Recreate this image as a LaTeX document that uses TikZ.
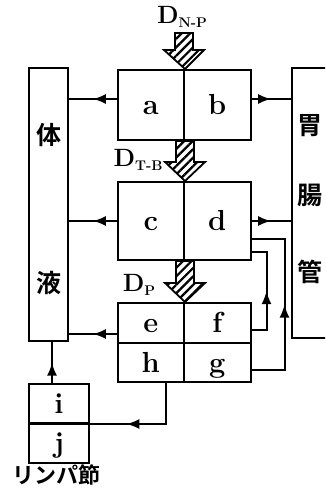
\documentclass[tikz,border=0pt]{standalone}
\usepackage{fontspec}
\usepackage{tikz}
\usetikzlibrary{arrows.meta,positioning,calc,patterns.meta,decorations.markings}
\newfontfamily\jpfont{Noto Sans CJK JP}[BoldFont={* Bold}]

\newcommand{\hatcharrow}[2]{%
  \path[hatch] let \p1=(#1), \p2=(#2) in
    (\x1-9pt,\y1) -- (\x1+9pt,\y1) -- (\x1+9pt,\y2+19pt) -- (\x1+20pt,\y2+19pt)
    -- (\x2,\y2) -- (\x1-20pt,\y2+19pt) -- (\x1-9pt,\y2+19pt) -- cycle;}

\begin{document}
\begin{tikzpicture}[x=1pt, y=-1pt,
        cell/.style={draw, line width=2pt, minimum width=66.5pt, inner sep=0pt, text height=19pt, text depth=0pt, font=\fontsize{29}{29}\selectfont\bfseries},
        side/.style={draw, line width=2.4pt, inner sep=0pt},
        jp/.style={inner sep=0pt, font=\jpfont\fontsize{25}{25}\selectfont\bfseries},
        dlab/.style={inner sep=0pt, font=\fontsize{25}{25}\selectfont\bfseries},
        link/.style={line width=2pt},
        midarr/.style={postaction={decorate}, decoration={markings, mark=at position #1 with {\arrow{Latex[length=13pt,width=10pt]}}}},
        midarr/.default=0.5,
        hatch/.style={draw, line width=1.8pt, pattern={Lines[angle=45,distance=6pt,line width=2.2pt]}}
    ]
    \useasboundingbox (0,0) rectangle (325,495);
    \clip (0,0) rectangle (325,495);

    \node[side, minimum width=39pt, minimum height=273pt] (body) at (48.5,204.5) {};
    \node[side, minimum width=53pt, minimum height=270pt] (gut)  at (318.5,203)  {};
    \node[jp] (tai)  at (49,135)  {体};
    \node[jp] (eki)  at (49,283)  {液};
    \node[jp] (i)    at (310,126) {胃};
    \node[jp] (cho)  at (310,195) {腸};
    \node[jp] (kan)  at (310,272) {管};

    \node[cell, minimum height=70pt] (a) at (150.75,105)   {a};
    \node[cell, minimum height=70pt] (b) at (217.25,105)   {b};
    \node[cell, minimum height=78pt] (c) at (150.75,221)   {c};
    \node[cell, minimum height=78pt] (d) at (217.25,221)   {d};
    \node[cell, minimum height=40pt] (e) at (150.75,323)   {e};
    \node[cell, minimum height=40pt] (f) at (217.25,323)   {f};
    \node[cell, minimum height=39pt] (h) at (150.75,362.5) {h};
    \node[cell, minimum height=39pt] (g) at (217.25,362.5) {g};
    \node[cell, minimum width=60pt, minimum height=39pt] (li) at (59,403.5) {i};
    \node[cell, minimum width=60pt, minimum height=40pt] (lj) at (59,443)   {j};

    \node[dlab] (dnp) at (182,17)  {D\raisebox{-0.3ex}{\fontsize{14}{14}\selectfont N-P}};
    \node[dlab] (dtb) at (138,160) {D\raisebox{-0.3ex}{\fontsize{14}{14}\selectfont T-B}};
    \node[dlab] (dp)  at (139,285) {D\raisebox{-0.3ex}{\fontsize{14}{14}\selectfont P}};
    \node[inner sep=0pt, anchor=west, font=\jpfont\fontsize{22}{22}\selectfont\bfseries] (lymph) at (12,475) {リンパ節};

    \coordinate (nptop) at (184,33);
    \hatcharrow{nptop}{a.north east}
    \hatcharrow{a.south east}{c.north east}
    \hatcharrow{c.south east}{e.north east}

    \draw[link, midarr] ([yshift=6pt]a.west) -- ([yshift=6pt]a.west -| body.east);
    \draw[link, midarr] ([yshift=6pt]b.east) -- ([yshift=6pt]b.east -| gut.west);
    \draw[link, midarr] (c.west) -- (c.west -| body.east);
    \draw[link, midarr] (d.east) -- (d.east -| gut.west);
    \draw[link, midarr] ([yshift=-11pt]e.west) -- ([yshift=-11pt]e.west -| body.east);
    \draw[link, midarr] ([yshift=-7pt]f.east) -- ++(15,0) |- ([yshift=-31pt]d.east);
    \draw[link, midarr] ([yshift=-7.5pt]g.east) -- ++(33,0) |- ([yshift=-18pt]d.east);
    \draw[link, midarr=0.45] ([xshift=15pt]h.south) |- (li.south west);
    \draw[link, midarr] ([xshift=-7pt]li.north) -- ([xshift=-7pt]li.north |- body.south);
\end{tikzpicture}
\end{document}
